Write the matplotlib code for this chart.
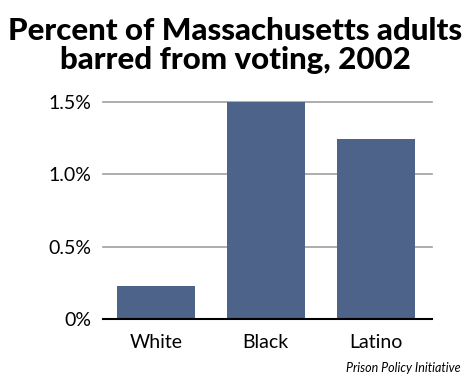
import matplotlib.pyplot as plt

groups = ['White', 'Black', 'Latino']
pct_barred = [0.23, 1.5, 1.24]
ytick_vals = [0, 0.5, 1.0, 1.5]
ytick_labels = ['0%', '0.5%', '1.0%', '1.5%']

plt.rcParams['font.family'] = ['Lato', 'DejaVu Sans']

fig = plt.figure(figsize=(4.7, 3.8), dpi=100)
ax = fig.add_axes([0.219, 0.1605, 0.7, 0.5715])

x = range(len(groups))
ax.bar(x, pct_barred, width=0.71, color='#4d6389', zorder=3)

ax.set_xlim(-0.48, 2.51)
ax.set_ylim(0, 1.5)
ax.set_xticks(list(x))
ax.set_xticklabels(groups, fontsize=14)
ax.set_yticks(ytick_vals)
ax.set_yticklabels(ytick_labels, fontsize=14)
ax.tick_params(axis='y', length=0, pad=8)
ax.tick_params(axis='x', length=0, pad=11)

ax.yaxis.grid(True, color='#a0a0a0', linewidth=1.2, clip_on=False)
for s in ['top', 'right', 'left']:
    ax.spines[s].set_visible(False)
ax.spines['bottom'].set_linewidth(1.5)
ax.spines['bottom'].set_zorder(4)

fig.text(0.5, 0.955, 'Percent of Massachusetts adults\nbarred from voting, 2002',
         ha='center', va='top', fontsize=22.5, fontweight='black', linespacing=1.05)
fig.text(0.98, 0.015, 'Prison Policy Initiative', ha='right', va='bottom',
         fontsize=9, style='italic')

fig.savefig('out.png', dpi=100)
